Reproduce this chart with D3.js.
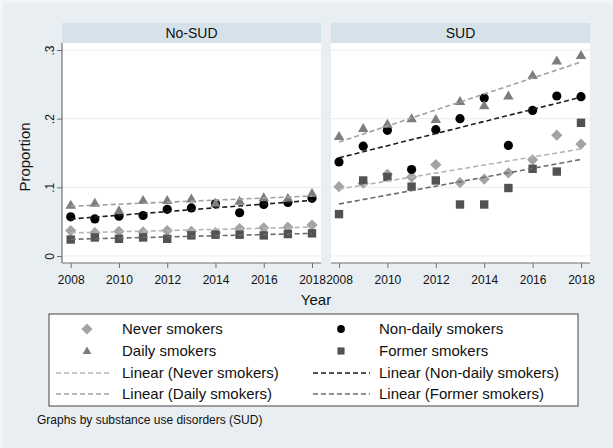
<!DOCTYPE html>
<html><head><meta charset="utf-8">
<script src="https://cdn.jsdelivr.net/npm/d3@7"></script>
<style>html,body{margin:0;padding:0;background:#e8eef2;}svg{display:block;font-family:"Liberation Sans",Arial,Helvetica,sans-serif;}</style>
</head><body><svg id="c" width="613" height="448"></svg>
<script>
const years = [2008,2009,2010,2011,2012,2013,2014,2015,2016,2017,2018];
const panels = ["No-SUD","SUD"];
const yTicks = [0,0.1,0.2,0.3];
const yTickLabels = ["0",".1",".2",".3"];
const xTicks = [2008,2010,2012,2014,2016,2018];
const seriesNames = ["Never smokers","Non-daily smokers","Daily smokers","Former smokers"];
// No-SUD
const noSudNever    = [0.037,0.034,0.036,0.035,0.037,0.036,0.034,0.040,0.041,0.042,0.045];
const noSudNonDaily = [0.057,0.054,0.058,0.059,0.068,0.070,0.076,0.063,0.075,0.078,0.084];
const noSudDaily    = [0.074,0.077,0.066,0.081,0.081,0.083,0.077,0.080,0.085,0.084,0.091];
const noSudFormer   = [0.024,0.027,0.025,0.027,0.025,0.030,0.031,0.031,0.030,0.032,0.033];
// SUD
const sudNever    = [0.101,0.106,0.119,0.115,0.133,0.107,0.112,0.121,0.140,0.176,0.163];
const sudNonDaily = [0.137,0.160,0.183,0.126,0.184,0.200,0.230,0.161,0.212,0.233,0.232];
const sudDaily    = [0.174,0.186,0.192,0.200,0.199,0.225,0.219,0.233,0.263,0.284,0.292];
const sudFormer   = [0.061,0.110,0.115,0.101,0.110,0.075,0.075,0.099,0.127,0.123,0.194];

const panelData = [
  [noSudNever,noSudNonDaily,noSudDaily,noSudFormer],
  [sudNever,sudNonDaily,sudDaily,sudFormer]
];
const markerShapes = [d3.symbolDiamond2 ? null : null];
const markerColor = ["#a3a3a3","#000000","#7d7d7d","#525252"];
const lineColor = ["#b5b5b5","#1e1e1e","#a2a2a2","#6c6c6c"];

const svg = d3.select("#c");
svg.append("rect").attr("x",0).attr("y",0).attr("width",613).attr("height",448).attr("fill","#f2f6f8");
svg.append("rect").attr("x",3).attr("y",3).attr("width",610).attr("height",445).attr("fill","#e8eef2");

const y = d3.scaleLinear().domain([0,0.3]).range([256,50]);
const panelBox = [{x0:62,x1:321,r0:70.7,r1:312},{x0:331,x1:590,r0:339,r1:581}];
const plotTop = 43, axisY = 263;

function drawMarker(g, k, cx, cy, s){
  if(k===0){ // diamond
    const r=5.6;
    g.append("path").attr("d",`M${cx},${cy-r}L${cx+r},${cy}L${cx},${cy+r}L${cx-r},${cy}Z`).attr("fill",markerColor[k]);
  } else if(k===1){
    g.append("circle").attr("cx",cx).attr("cy",cy).attr("r",4.6*s).attr("fill",markerColor[k]);
  } else if(k===2){
    const h=9*s, w=10.5*s;
    g.append("path").attr("d",`M${cx},${cy-h*0.6}L${cx+w/2},${cy+h*0.4}L${cx-w/2},${cy+h*0.4}Z`).attr("fill",markerColor[k]);
  } else {
    const a=8.4*s;
    g.append("rect").attr("x",cx-a/2).attr("y",cy-a/2).attr("width",a).attr("height",a).attr("fill",markerColor[k]);
  }
}
function ols(xs, ys){
  const mx=d3.mean(xs), my=d3.mean(ys);
  let sxy=0,sxx=0; xs.forEach((x,i)=>{sxy+=(x-mx)*(ys[i]-my); sxx+=(x-mx)*(x-mx);});
  const b=sxy/sxx; return x=>my+b*(x-mx);
}

panels.forEach((name,p)=>{
  const b = panelBox[p];
  const x = d3.scaleLinear().domain([2008,2018]).range([b.r0,b.r1]);
  const g = svg.append("g");
  // strip
  g.append("rect").attr("x",b.x0).attr("y",23).attr("width",b.x1-b.x0).attr("height",20).attr("fill","#d6e2ea");
  g.append("text").attr("x",(b.x0+b.x1)/2).attr("y",38).attr("text-anchor","middle").attr("font-size",14).attr("fill","#111").text(name);
  // plot area
  g.append("rect").attr("x",b.x0).attr("y",plotTop).attr("width",b.x1-b.x0).attr("height",axisY-plotTop).attr("fill","#ffffff");
  // gridlines
  g.selectAll("line.grid").data(yTicks).enter().append("line")
    .attr("x1",b.x0).attr("x2",b.x1).attr("y1",d=>y(d)).attr("y2",d=>y(d))
    .attr("stroke","#e9eff2").attr("stroke-width",1.2);
  // x axis
  const xa = g.append("g").attr("transform",`translate(0,${axisY})`).call(d3.axisBottom(x).tickValues(xTicks).tickFormat(d3.format("d")).tickSize(5).tickSizeOuter(0));
  xa.select(".domain").attr("d",`M${b.x0},0H${b.x1}`).attr("stroke","#6f6f6f").attr("stroke-width",1.2);
  xa.selectAll(".tick line").attr("stroke","#6f6f6f");
  xa.selectAll(".tick text").attr("font-size",12).attr("fill","#111").attr("dy","1.05em").attr("font-family",null);
  if(p===0){
    const ya = g.append("g").attr("transform",`translate(${b.x0},0)`).call(d3.axisLeft(y).tickValues(yTicks).tickFormat((d,i)=>yTickLabels[i]).tickSize(5).tickSizeOuter(0));
    ya.select(".domain").attr("d",`M0,${plotTop}V${axisY}`).attr("stroke","#6f6f6f").attr("stroke-width",1.2);
    ya.selectAll(".tick line").attr("stroke","#6f6f6f");
    ya.selectAll(".tick text").attr("font-size",12).attr("fill","#111").attr("font-family",null)
      .attr("x",null).attr("dy",null)
      .attr("transform","translate(-12,0) rotate(-90)").attr("text-anchor","middle").attr("dy","0.35em");
  }
  // scatter
  const data = panelData[p];
  data.forEach((vals,k)=>{
    const mg = g.append("g");
    vals.forEach((v,i)=>drawMarker(mg,k,x(years[i]),y(v),1));
  });
  // fits
  data.forEach((vals,k)=>{
    const f = ols(years, vals);
    g.append("line").attr("x1",x(2008)).attr("x2",x(2018)).attr("y1",y(f(2008))).attr("y2",y(f(2018)))
      .attr("stroke",lineColor[k]).attr("stroke-width",1.6).attr("stroke-dasharray","5,3");
  });
});

// axis titles
svg.append("text").attr("transform","translate(30,157) rotate(-90)").attr("text-anchor","middle").attr("font-size",15).attr("fill","#111").text("Proportion");
svg.append("text").attr("x",316).attr("y",305).attr("text-anchor","middle").attr("font-size",15).attr("fill","#111").text("Year");

// legend
const leg = svg.append("g");
leg.append("rect").attr("x",49).attr("y",314).attr("width",529).attr("height",92).attr("fill","#ffffff").attr("stroke","#444").attr("stroke-width",1);
const legendItems = [
  {label:"Never smokers",type:"m",k:0},
  {label:"Non-daily smokers",type:"m",k:1},
  {label:"Daily smokers",type:"m",k:2},
  {label:"Former smokers",type:"m",k:3},
  {label:"Linear (Never smokers)",type:"l",k:0},
  {label:"Linear (Non-daily smokers)",type:"l",k:1},
  {label:"Linear (Daily smokers)",type:"l",k:2},
  {label:"Linear (Former smokers)",type:"l",k:3}
];
const rowY=[329,351,373,394], colMark=[87,341], colText=[122,379], colLine=[[56,112],[313,370]];
legendItems.forEach((it,i)=>{
  const c=i%2, r=Math.floor(i/2), yy=rowY[r];
  if(it.type==="m"){ drawMarker(leg,it.k,colMark[c],yy,0.85); }
  else { leg.append("line").attr("x1",colLine[c][0]).attr("x2",colLine[c][1]).attr("y1",yy).attr("y2",yy)
      .attr("stroke",lineColor[it.k]).attr("stroke-width",1.3).attr("stroke-dasharray","5,3"); }
  leg.append("text").attr("x",colText[c]).attr("y",yy).attr("dy","0.36em").attr("font-size",15).attr("fill","#111").text(it.label);
});
svg.append("text").attr("x",37).attr("y",424).attr("font-size",12).attr("fill","#111").text("Graphs by substance use disorders (SUD)");
</script></body></html>
